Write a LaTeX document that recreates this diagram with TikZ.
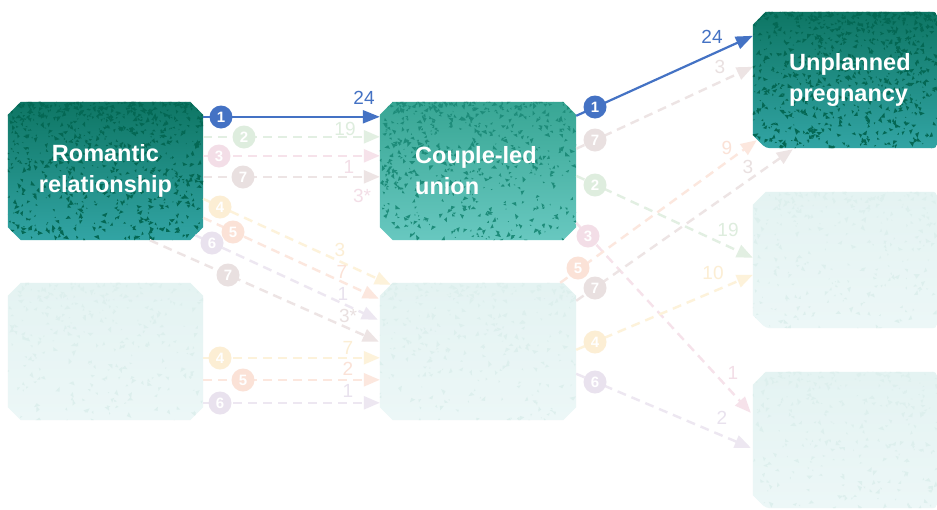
\documentclass[tikz,border=0pt]{standalone}
\usepackage{fontspec}
\setmainfont{Liberation Sans}
\usetikzlibrary{arrows.meta,calc}
\definecolor{blueA}{RGB}{68,114,196}
\definecolor{gL}{RGB}{226,239,226}\definecolor{gB}{RGB}{222,237,222}
\definecolor{pL}{RGB}{246,226,234}\definecolor{pB}{RGB}{243,222,231}
\definecolor{brL}{RGB}{237,228,228}\definecolor{brB}{RGB}{233,224,224}
\definecolor{yL}{RGB}{253,242,218}\definecolor{yB}{RGB}{252,238,212}
\definecolor{sL}{RGB}{252,231,222}\definecolor{sB}{RGB}{251,226,215}
\definecolor{puL}{RGB}{237,231,241}\definecolor{puB}{RGB}{233,226,238}
\definecolor{dkTop}{RGB}{14,118,100}\definecolor{dkBot}{RGB}{50,164,164}\definecolor{dkSp}{RGB}{4,104,84}
\definecolor{mdTop}{RGB}{56,166,148}\definecolor{mdBot}{RGB}{104,200,192}\definecolor{mdSp}{RGB}{30,140,122}
\definecolor{ltTop}{RGB}{228,243,242}\definecolor{ltBot}{RGB}{236,247,247}\definecolor{ltSp}{RGB}{221,239,237}
\newcommand\chpath[1]{($(#1.north west)+(13,0)$) -- ($(#1.north east)+(-13,0)$) -- ($(#1.north east)+(0,13)$) -- ($(#1.south east)+(0,-13)$) -- ($(#1.south east)+(-13,0)$) -- ($(#1.south west)+(13,0)$) -- ($(#1.south west)+(0,-13)$) -- ($(#1.north west)+(0,13)$) -- cycle}
\newcommand\rtpath[1]{($(#1.north west)+(13,0)$) [rounded corners=4pt] -- (#1.north east) -- (#1.south east) -- ($(#1.south west)+(13,0)$) [sharp corners] -- ($(#1.south west)+(0,-13)$) -- ($(#1.north west)+(0,13)$) -- cycle}
\newcommand\mkspeck[3]{%
  \foreach \k in {1,...,#3}{%
    \pgfmathsetmacro\rx{rnd}%
    \pgfmathsetmacro\ry{rnd^1.6}%
    \pgfmathsetmacro\ra{360*rnd}%
    \pgfmathsetmacro\rl{1.5+5*rnd}%
    \fill[#2] ($(#1.north west)!\rx!(#1.north east)+(0,\ry*140)$) -- ++(\ra:\rl pt) -- ++(\ra+130:0.7*\rl pt) -- cycle;
  }}
\newcommand\mkbox[5]{%
  \path[#3] #2{#1};
  \begin{scope}
    \clip #2{#1};
    \mkspeck{#1}{#4}{#5}
  \end{scope}}
\begin{document}
\begin{tikzpicture}[x=1pt,y=-1pt,
  area/.style={inner sep=0pt, minimum width=#1, minimum height=138pt},
  boxtxt/.style={text=white, font=\bfseries\fontsize{23.5}{31}\selectfont, inner sep=0pt},
  badge/.style={circle, inner sep=0pt, minimum size=23pt, text=white, font=\bfseries\fontsize{15}{15}\selectfont},
  lab/.style={font=\fontsize{19}{19}\selectfont, inner sep=0pt},
  flow/.style={line width=2.4pt, dash pattern=on 9pt off 6pt, -{Triangle[length=16pt,width=13pt]}},
  main/.style={line width=2.2pt, draw=blueA, -{Triangle[length=17pt,width=13pt]}}]
\useasboundingbox (0,0) rectangle (937,509);
\fill[white] (0,0) rectangle (937,509);
\pgfmathsetseed{11}
% box areas
\node[area=195pt] (rom) at (105.5,171) {};
\node[area=195pt, minimum height=137pt] (rel2) at (105.5,351.5) {};
\node[area=196pt] (cpl) at (478,171) {};
\node[area=196pt, minimum height=137pt] (mid2) at (478,351.5) {};
\node[area=184pt, minimum height=136pt] (unp) at (845,80) {};
\node[area=184pt, minimum height=136pt] (r2) at (845,260) {};
\node[area=184pt, minimum height=136pt] (r3) at (845,440) {};
% boxes
\mkbox{rom}{\chpath}{top color=dkTop,bottom color=dkBot}{dkSp}{800}
\mkbox{rel2}{\chpath}{top color=ltTop,bottom color=ltBot}{ltSp}{300}
\mkbox{cpl}{\chpath}{top color=mdTop,bottom color=mdBot}{mdSp}{600}
\mkbox{mid2}{\chpath}{top color=ltTop,bottom color=ltBot}{ltSp}{300}
\mkbox{unp}{\rtpath}{top color=dkTop,bottom color=dkBot}{dkSp}{800}
\mkbox{r2}{\rtpath}{top color=ltTop,bottom color=ltBot}{ltSp}{300}
\mkbox{r3}{\rtpath}{top color=ltTop,bottom color=ltBot}{ltSp}{300}
% faded connectors: romantic -> couple-led
\draw[flow, draw=gL] ($(rom.north east)+(0,35)$) -- ($(cpl.north west)+(0,35)$);
\draw[flow, draw=pL] ($(rom.north east)+(0,54)$) -- ($(cpl.north west)+(0,54)$);
\draw[flow, draw=brL] ($(rom.north east)+(0,75)$) -- ($(cpl.north west)+(0,75)$);
% romantic -> mid2
\draw[flow, draw=yL] ($(rom.north east)+(0,97)$) -- ($(mid2.north west)+(11,2)$);
\draw[flow, draw=sL] ($(rom.north east)+(0,116)$) -- ($(mid2.north west)+(-1,16)$);
\draw[flow, draw=puL] ($(rom.south east)+(-8,-5)$) -- ($(mid2.north west)+(-2,37)$);
\draw[flow, draw=brL] ($(rom.south west)+(142,0)$) -- ($(mid2.north west)+(-1,59)$);
% rel2 -> mid2
\draw[flow, draw=yL] ($(rel2.north east)+(0,75)$) -- ($(mid2.north west)+(0,75)$);
\draw[flow, draw=sL] ($(rel2.north east)+(0,97)$) -- ($(mid2.north west)+(0,97)$);
\draw[flow, draw=puL] ($(rel2.north east)+(0,120)$) -- ($(mid2.north west)+(0,120)$);
% couple-led -> right
\draw[flow, draw=brL] ($(cpl.north east)+(0,47)$) -- ($(unp.north west)+(0,55)$);
\draw[flow, draw=gL] ($(cpl.north east)+(0,74)$) -- ($(r2.north west)+(0,66)$);
\draw[flow, draw=pL] ($(cpl.north east)+(0,121)$) -- ($(r3.north west)+(-2,41)$);
% mid2 -> right
\draw[flow, draw=sL] ($(mid2.north east)+(-16,0)$) -- ($(unp.south west)+(4,-8)$);
\draw[flow, draw=brL] ($(mid2.north east)+(0,18)$) -- ($(unp.south west)+(40,1)$);
\draw[flow, draw=yL] ($(mid2.north east)+(0,67)$) -- ($(r2.north west)+(0,83)$);
\draw[flow, draw=puL] ($(mid2.north east)+(0,91)$) -- ($(r3.north west)+(-2,76)$);
% main blue connectors
\draw[main] ($(rom.north east)+(0,15)$) -- ($(cpl.north west)+(0,15)$);
\draw[main] ($(cpl.north east)+(0,14)$) -- ($(unp.north west)+(0,24)$);
% badges
\node[badge, fill=blueA] (ba1) at (221,117) {1};
\node[badge, fill=gB] (ba2) at (244,137) {2};
\node[badge, fill=pB] (ba3) at (219,156) {3};
\node[badge, fill=brB] (ba7) at (243,177) {7};
\node[badge, fill=yB] (bb4) at (220,207) {4};
\node[badge, fill=sB] (bb5) at (233,232) {5};
\node[badge, fill=puB] (bb6) at (212,243) {6};
\node[badge, fill=brB] (bb7) at (228,275) {7};
\node[badge, fill=yB] (bc4) at (220,358) {4};
\node[badge, fill=sB] (bc5) at (243,380) {5};
\node[badge, fill=puB] (bc6) at (220,403) {6};
\node[badge, fill=blueA] (bd1) at (595,107) {1};
\node[badge, fill=brB] (bd7) at (595,140) {7};
\node[badge, fill=gB] (bd2) at (595,185) {2};
\node[badge, fill=pB] (bd3) at (588,236) {3};
\node[badge, fill=sB] (be5) at (578,268) {5};
\node[badge, fill=brB] (be7) at (595,288) {7};
\node[badge, fill=yB] (be4) at (595,342) {4};
\node[badge, fill=puB] (be6) at (595,382) {6};
% labels
\node[lab, text=blueA] (l1) at (364,98) {24};
\node[lab, text=gB] (l2) at (345,129) {19};
\node[lab, text=pB] (l3) at (349,167) {1};
\node[lab, text=pB] (l4) at (362,196) {3*};
\node[lab, text=yB] (l5) at (340,250) {3};
\node[lab, text=sB] (l6) at (342,272) {7};
\node[lab, text=puB] (l7) at (343,294) {1};
\node[lab, text=brB] (l8) at (348,316) {3*};
\node[lab, text=yB] (l9) at (348,348) {7};
\node[lab, text=sB] (l10) at (348,369) {2};
\node[lab, text=puB] (l11) at (348,391) {1};
\node[lab, text=blueA] (l12) at (712,37) {24};
\node[lab, text=brB] (l13) at (720,67) {3};
\node[lab, text=gB] (l14) at (728,230) {19};
\node[lab, text=pB] (l15) at (733,373) {1};
\node[lab, text=sB] (l16) at (727,148) {9};
\node[lab, text=brB] (l17) at (748,167) {3};
\node[lab, text=yB] (l18) at (713,273) {10};
\node[lab, text=puB] (l19) at (722,418) {2};
% box texts
\node[boxtxt, align=center] (romt) at (105.5,171) {Romantic\\relationship};
\node[boxtxt, align=left, anchor=west] (cplt) at (415,171) {Couple-led\\union};
\node[boxtxt, align=left, anchor=west] (unpt) at (789,80) {Unplanned\\pregnancy};
\end{tikzpicture}
\end{document}
